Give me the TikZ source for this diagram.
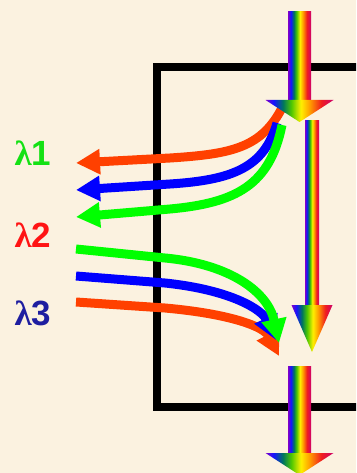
\documentclass[tikz,border=0pt]{standalone}
\usepackage{fontspec}
\setmainfont{Liberation Sans}
\newfontfamily\lamfont{Liberation Serif}
\usetikzlibrary{arrows.meta}
\definecolor{paper}{RGB}{251,242,224}
\definecolor{beamred}{RGB}{255,64,0}
\definecolor{beamblue}{RGB}{0,0,255}
\definecolor{beamgreen}{RGB}{0,255,0}
\definecolor{labgreen}{RGB}{20,225,20}
\definecolor{labred}{RGB}{255,20,20}
\definecolor{labblue}{RGB}{30,30,160}
\definecolor{rbviolet}{RGB}{130,0,200}
\definecolor{rbblue}{RGB}{20,20,255}
\definecolor{rbteal}{RGB}{0,120,90}
\definecolor{rbgreen}{RGB}{80,200,0}
\definecolor{rbyellow}{RGB}{255,240,0}
\definecolor{rborange}{RGB}{255,150,0}
\definecolor{rbred}{RGB}{240,30,30}
\definecolor{rbmagenta}{RGB}{205,0,110}
\pgfdeclarehorizontalshading{rainbow}{100bp}{color(0bp)=(rbviolet); color(25bp)=(rbviolet);
  color(31bp)=(rbblue); color(38bp)=(rbteal); color(44bp)=(rbgreen); color(51bp)=(rbyellow);
  color(58bp)=(rborange); color(66bp)=(rbred); color(75bp)=(rbmagenta); color(100bp)=(rbmagenta)}

\begin{document}
\begin{tikzpicture}[x=1pt,y=-1pt,
    beam/.style={line width=9pt, -{Triangle[length=24pt,width=24pt]}},
    lam/.style={inner sep=0pt, font=\bfseries\fontsize{35}{35}\selectfont}]
    % Paper background
    \fill[paper] (0,0) rectangle (356,473);
    \clip (0,0) rectangle (356,473);

    % Draw the box
    \draw[line width=8pt] (380,67) -- (157,67) -- (157,407) -- (380,407);

    % Beam ends
    \coordinate (redout) at (283,106);
    \coordinate (blueout) at (277,123);
    \coordinate (greenout) at (282,125);
    \coordinate (redtip) at (76,163);
    \coordinate (bluetip) at (76,190);
    \coordinate (greentip) at (76,217);
    \coordinate (greenin) at (76,249);
    \coordinate (bluein) at (76,276);
    \coordinate (redin) at (76,302);
    \coordinate (greenend) at (279,343);
    \coordinate (blueend) at (276,340);
    \coordinate (redend) at (279,356);

    % Outgoing beams
    \draw[beam, beamred] (redout) .. controls (262,148) and (232,154) .. (170,158) -- (redtip);
    \draw[beam, beamblue] (blueout) .. controls (264,168) and (232,180) .. (170,184) -- (bluetip);
    \draw[beam, beamgreen] (greenout) .. controls (270,185) and (236,203) .. (170,209) -- (greentip);

    % Incoming beams
    \draw[beam, beamred] (redin) -- (165,308) .. controls (232,314) and (264,327) .. (redend);
    \draw[beam, beamblue] (bluein) -- (165,283) .. controls (232,290) and (262,310) .. (blueend);
    \draw[beam, beamgreen] (greenin) -- (165,258) .. controls (230,264) and (268,292) .. (greenend);

    % Rainbow arrows
    \foreach \cx/\sw/\st/\sb/\hw/\tip in {299.5/11.5/12/100/34/122, 312/7/121/305/20.5/352, 299.5/11.5/366/453/34/475}
    {
        \shade[shading=rainbow] (\cx-\sw,\st) rectangle (\cx+\sw,\sb+0.5);
        \shade[shading=rainbow] (\cx-\hw,\sb) -- (\cx+\hw,\sb) -- (\cx,\tip) -- cycle;
    }

    % Labels
    \node[lam, text=labgreen] (lam1) at (33,153) {{\lamfont λ}1};
    \node[lam, text=labred] (lam2) at (33,235) {{\lamfont λ}2};
    \node[lam, text=labblue] (lam3) at (33,313) {{\lamfont λ}3};
\end{tikzpicture}
\end{document}
